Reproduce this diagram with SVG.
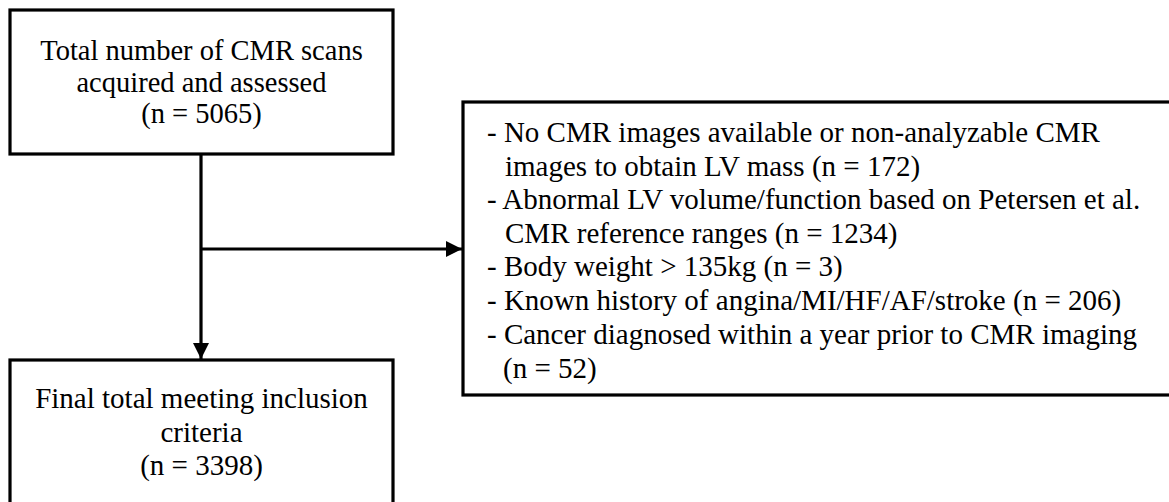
<svg xmlns="http://www.w3.org/2000/svg" width="1169" height="502" viewBox="0 0 1169 502">
<defs>
<style>
.box{fill:#fff;stroke:#000;stroke-width:3.2}
.t{font-family:"Liberation Serif","Times New Roman",serif;fill:#000}
.c{text-anchor:middle}
.ln{stroke:#000;stroke-width:3.2;fill:none}
</style>
<marker id="ah" markerWidth="16" markerHeight="16" viewBox="0 0 16 16" refX="16" refY="8" orient="auto" markerUnits="userSpaceOnUse">
<path d="M0,0 L16,8 L0,16 Z" fill="#000"/>
</marker>
</defs>
<rect width="1169" height="502" fill="#fff"/>
<g id="connectors">
<line class="ln" x1="201" y1="154" x2="201" y2="359" marker-end="url(#ah)"/>
<line class="ln" x1="201" y1="249" x2="462" y2="249" marker-end="url(#ah)"/>
</g>
<g id="total">
<rect class="box" x="10" y="10" width="383" height="144"/>
<text class="t c" font-size="28.5" x="201.5" y="60">Total number of CMR scans</text>
<text class="t c" font-size="28.5" x="201.5" y="91.5">acquired and assessed</text>
<text class="t c" font-size="28.5" x="201.5" y="123">(n = 5065)</text>
</g>
<g id="exclusions">
<rect class="box" x="463" y="102" width="730" height="293"/>
<g class="t" font-size="29">
<text x="487" y="142">- No CMR images available or non-analyzable CMR</text>
<text x="505" y="175.5">images to obtain LV mass (n = 172)</text>
<text x="487" y="209">- Abnormal LV volume/function based on Petersen et al.</text>
<text x="505" y="242.5">CMR reference ranges (n = 1234)</text>
<text x="487" y="276">- Body weight &gt; 135kg (n = 3)</text>
<text x="487" y="310">- Known history of angina/MI/HF/AF/stroke (n = 206)</text>
<text x="487" y="343.5">- Cancer diagnosed within a year prior to CMR imaging</text>
<text x="503" y="378">(n = 52)</text>
</g>
</g>
<g id="final">
<rect class="box" x="10" y="360" width="383" height="150"/>
<text class="t c" font-size="29" x="201.5" y="408">Final total meeting inclusion</text>
<text class="t c" font-size="29" x="201.5" y="441.5">criteria</text>
<text class="t c" font-size="29" x="201.5" y="475">(n = 3398)</text>
</g>
</svg>
